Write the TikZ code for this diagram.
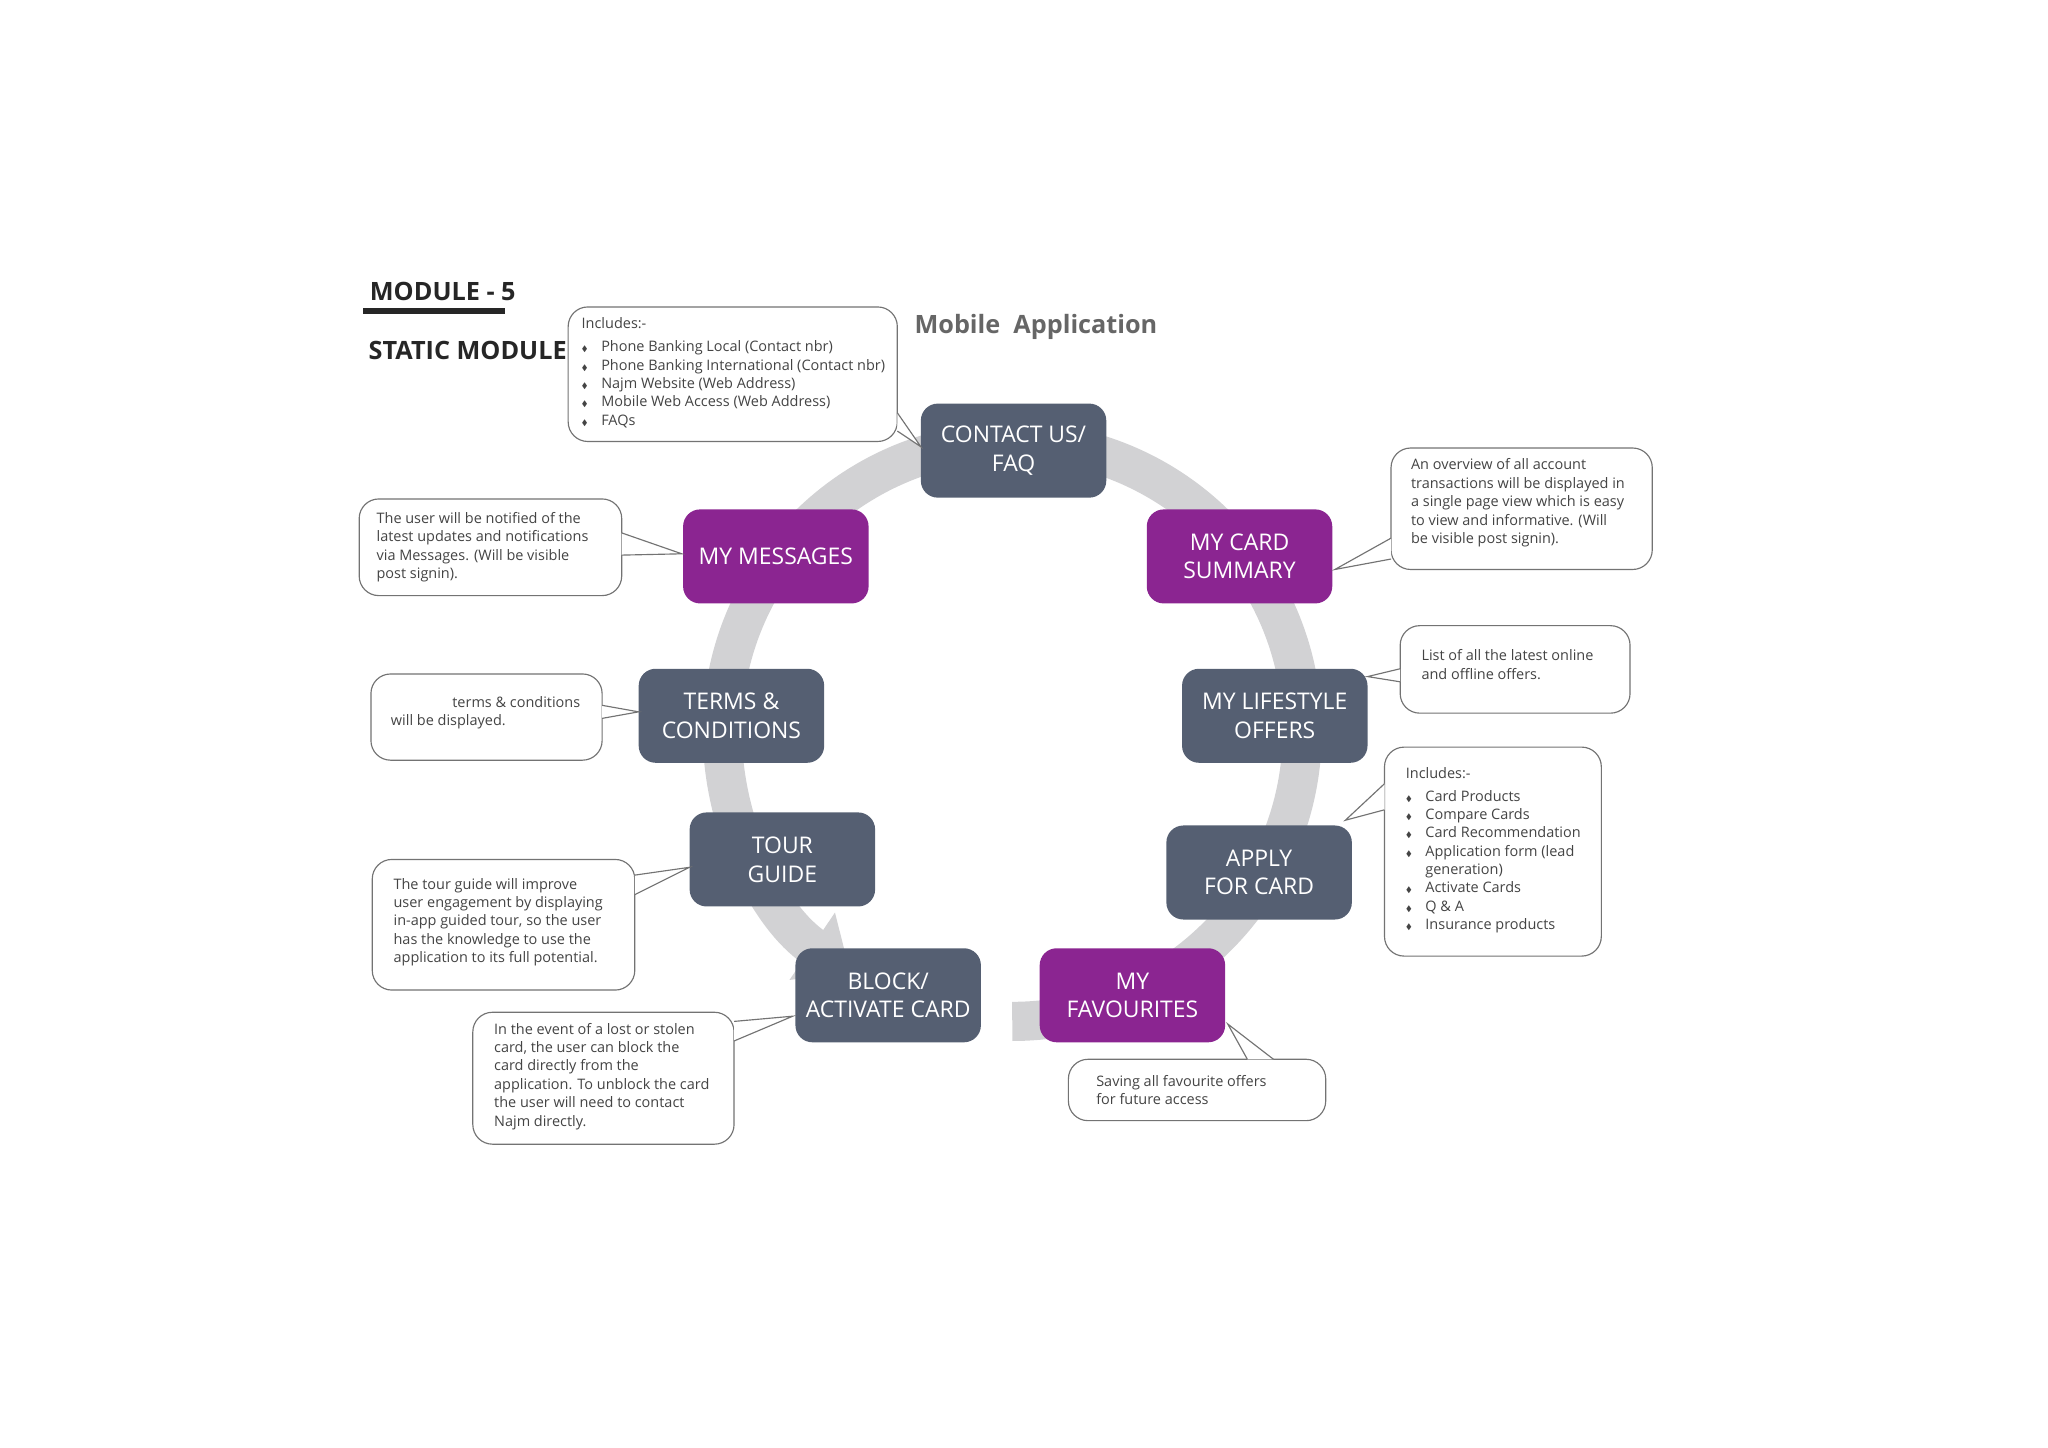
\documentclass[tikz,border=0pt]{standalone}
\usepackage{amssymb}
\usepackage{fontspec}
\setmainfont{Open Sans}
\usetikzlibrary{fit,arrows.meta,calc}
\definecolor{slate}{HTML}{555F72}
\definecolor{plum}{HTML}{8B2591}
\definecolor{ring}{HTML}{D2D2D4}
\definecolor{txt}{HTML}{444444}
\newcommand{\bl}{\makebox[3mm][l]{\scalebox{0.55}{$\blacklozenge$}}}
\tikzset{
 box/.style={rounded corners=2.6mm,minimum width=28.4mm,minimum height=14.4mm,text=white,align=center,font=\fontsize{10}{12.5}\selectfont,inner sep=0},
 dbox/.style={box,fill=slate},
 pbox/.style={box,fill=plum},
 callbox/.style={draw=gray!90!black,line width=0.5pt,rounded corners=3mm,fill=white,inner sep=0},
 ctext/.style={anchor=north west,align=left,text=txt,font=\fontsize{6.3}{8}\selectfont,inner sep=0},
 ptr/.style={draw=gray!90!black,line width=0.5pt,fill=white},
}
\newcommand{\pointer}[3]{\fill[white] (#1) -- (#3) -- (#2) -- cycle; \draw[ptr,fill=none] (#1) -- (#3) -- (#2);}
\begin{document}
\begin{tikzpicture}[x=0.2mm,y=-0.2mm]
\useasboundingbox (0,0) rectangle (1568,1108);
% ring
\draw[ring,line width=6mm,-{Triangle[width=12mm,length=7mm]}] (775,560) ++(90:222) arc[start angle=90,end angle=-236,radius=222];
% titles
\node[anchor=west,font=\bfseries\fontsize{11}{13}\selectfont,text=black!85] (mod) at (277,223) {MODULE - 5};
\draw[line width=0.9mm,black!85] (278,238) -- (387,238);
\node[anchor=west,font=\bfseries\fontsize{11}{13}\selectfont,text=black!85] (stat) at (276,268) {STATIC MODULE};
\node[anchor=west,font=\bfseries\fontsize{11}{13}\selectfont,text=black!60] (mob) at (694,250) {Mobile\ \ Application};
% boxes
\node[dbox] (contact) at (776,345) {CONTACT US/\\FAQ};
\node[pbox] (summary) at (949,426) {MY CARD\\SUMMARY};
\node[dbox] (life) at (976,548) {MY LIFESTYLE\\OFFERS};
\node[dbox] (apply) at (964,668) {APPLY\\FOR CARD};
\node[pbox] (fav) at (867,762) {MY\\FAVOURITES};
\node[dbox] (block) at (680,762) {BLOCK/\\ACTIVATE CARD};
\node[dbox] (tour) at (599,658) {TOUR\\GUIDE};
\node[dbox] (terms) at (560,548) {TERMS \&\\CONDITIONS};
\node[pbox] (msg) at (594,426) {MY MESSAGES};
% callouts
\node[callbox,fit={(435,235)(687,338)}] (c1) {};
\node[ctext] (t1) at (445,243) {Includes:-\\[2pt]\bl Phone Banking Local (Contact nbr)\\\bl Phone Banking International (Contact nbr)\\\bl Najm Website (Web Address)\\\bl Mobile Web Access (Web Address)\\\bl FAQs};
\coordinate (p1) at (705,342);
\pointer{687,316}{687,330}{p1}

\node[callbox,fit={(1065,343)(1265,436)}] (c2) {};
\node[ctext] (t2) at (1080,351) {An overview of all account\\transactions will be displayed in\\a single page view which is easy\\to view and informative. (Will\\be visible post signin).};
\coordinate (p2) at (1022,436);
\pointer{1065,412}{1065,428}{p2}

\node[callbox,fit={(1072,479)(1248,546)}] (c3) {};
\node[ctext] (t3) at (1088,497) {List of all the latest online\\and offline offers.};
\coordinate (p3) at (1047,518);
\pointer{1072,512}{1072,522}{p3}

\node[callbox,fit={(1060,572)(1226,732)}] (c4) {};
\node[ctext] (t4) at (1076,587) {Includes:-\\[2pt]\bl Card Products\\\bl Compare Cards\\\bl Card Recommendation\\\bl Application form (lead\\\hspace*{3mm}generation)\\\bl Activate Cards\\\bl Q \& A\\\bl Insurance products};
\coordinate (p4) at (1030,628);
\pointer{1060,600}{1060,620}{p4}

\node[callbox,fit={(818,811)(1015,858)}] (c5) {};
\node[ctext] (t5) at (839,823) {Saving all favourite offers\\for future access};
\coordinate (p5) at (940,784);
\pointer{955,811}{975,811}{p5}

\node[callbox,fit={(362,775)(562,876)}] (c6) {};
\node[ctext] (t6) at (378,783) {In the event of a lost or stolen\\card, the user can block the\\card directly from the\\application. To unblock the card\\the user will need to contact\\Najm directly.};
\coordinate (p6) at (607,778);
\pointer{562,782}{562,797}{p6}

\node[callbox,fit={(285,658)(486,758)}] (c7) {};
\node[ctext] (t7) at (301,672) {The tour guide will improve\\user engagement by displaying\\in-app guided tour, so the user\\has the knowledge to use the\\application to its full potential.};
\coordinate (p7) at (528,664);
\pointer{486,670}{486,685}{p7}

\node[callbox,fit={(284,516)(461,582)}] (c8) {};
\node[ctext] (t8) at (299,533) {\hspace*{9.4mm}terms \& conditions\\will be displayed.};
\coordinate (p8) at (489,545);
\pointer{461,540}{461,550}{p8}

\node[callbox,fit={(275,382)(476,456)}] (c9) {};
\node[ctext] (t9) at (288,392) {The user will be notified of the\\latest updates and notifications\\via Messages. (Will be visible\\post signin).};
\coordinate (p9) at (522,424);
\pointer{476,408}{476,425}{p9}
\end{tikzpicture}
\end{document}
